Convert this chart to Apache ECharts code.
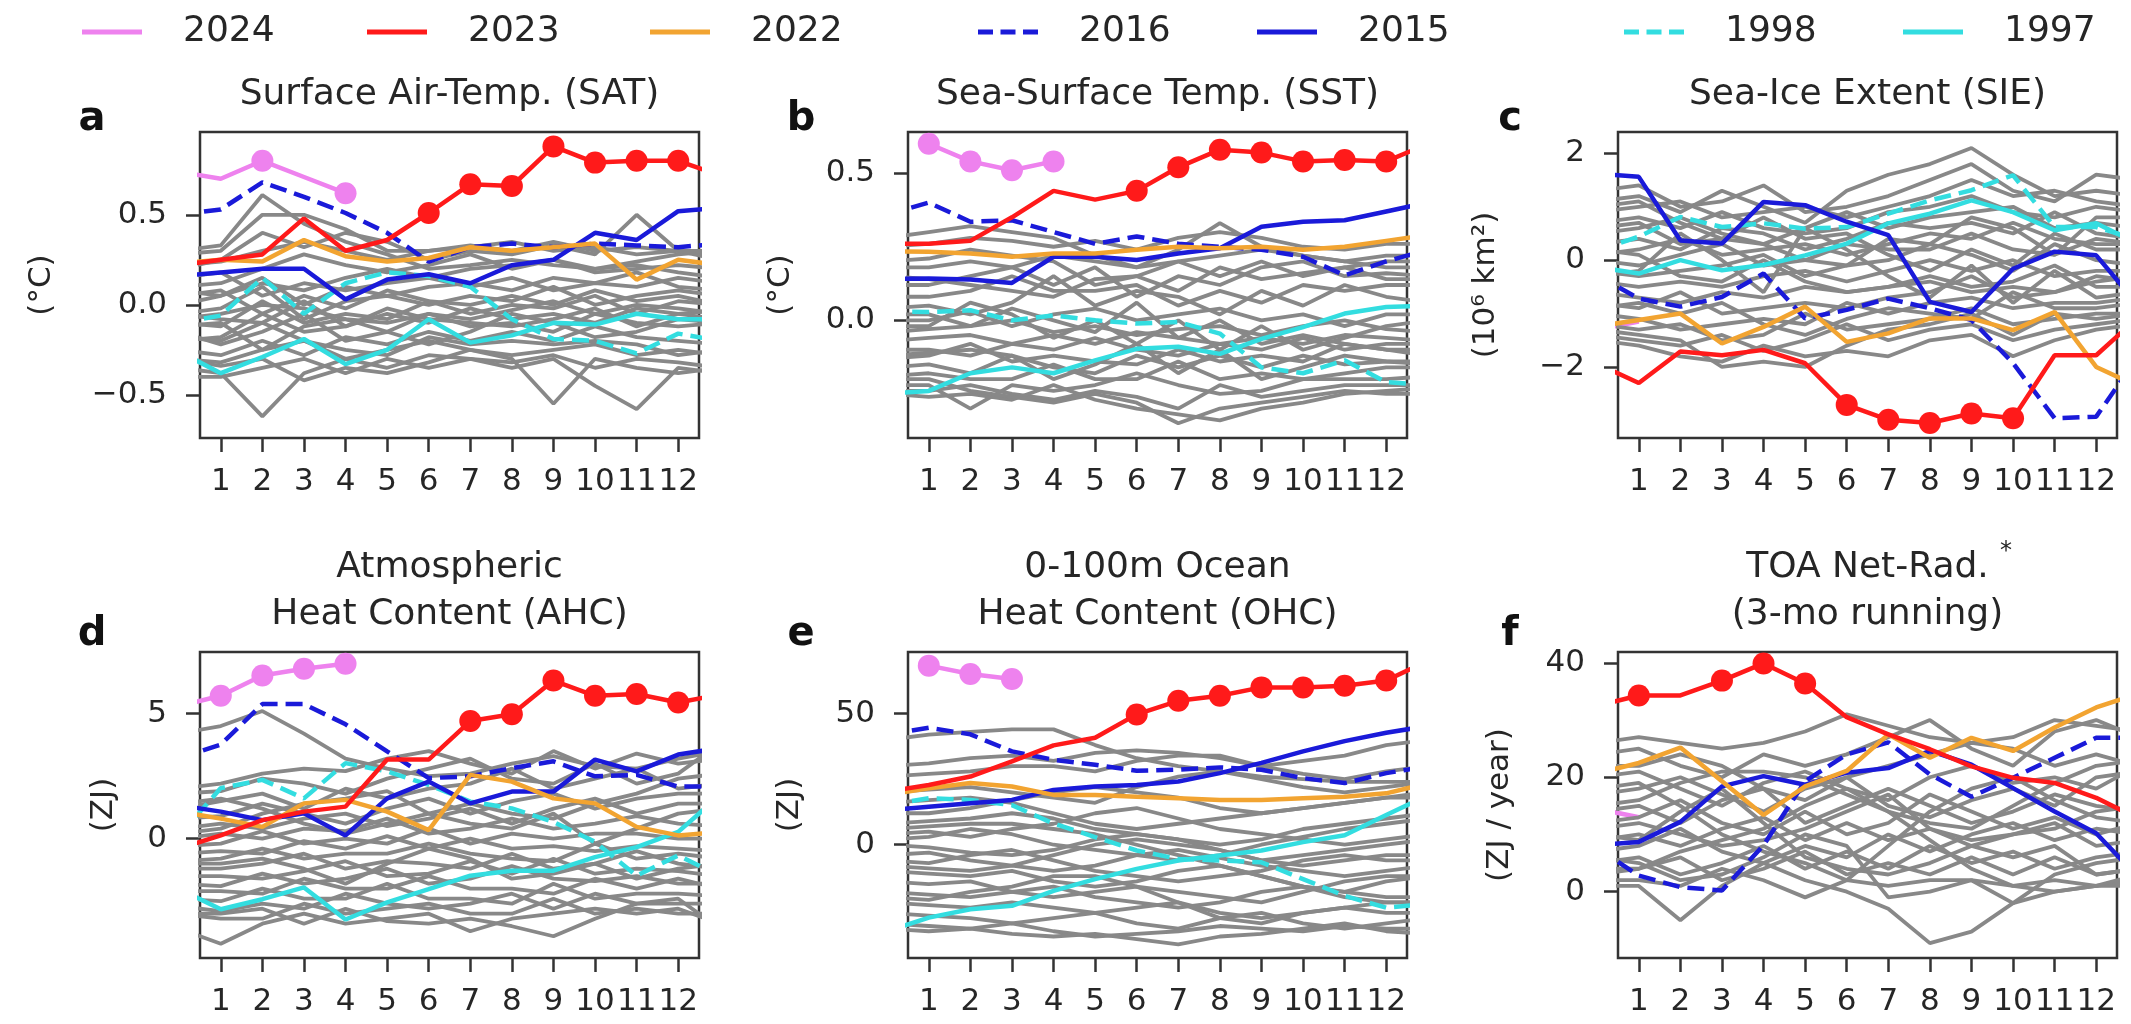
<!DOCTYPE html>
<html>
<head>
<meta charset="utf-8">
<script src="https://cdn.jsdelivr.net/npm/echarts@6.0.0/dist/echarts.min.js"></script>
<style>
  html, body { margin: 0; padding: 0; background: #fff; }
  #chart { width: 2131px; height: 1024px; }
</style>
</head>
<body>
<div id="chart"></div>
<script>
// months 0 (Dec of previous year) .. 13 (Jan of next year); axis shows 1..12
const MONTHS = [0, 1, 2, 3, 4, 5, 6, 7, 8, 9, 10, 11, 12, 13]
const TICK_MONTHS = [1, 2, 3, 4, 5, 6, 7, 8, 9, 10, 11, 12]
const YEARS = ['2024', '2023', '2022', '2016', '2015', '1998', '1997']

// y tick values per panel
const TICKS_A = [-0.5, 0, 0.5]
const TICKS_B = [0, 0.5]
const TICKS_C = [-2, 0, 2]
const TICKS_D = [0, 5]
const TICKS_E = [0, 50]
const TICKS_F = [0, 20, 40]

// ---- a: SAT (°C)
const a2024 = [0.74, 0.70, 0.80, 0.71, 0.62, null, null, null, null, null, null, null, null, null]
const a2023 = [0.22, 0.25, 0.28, 0.48, 0.30, 0.36, 0.51, 0.67, 0.66, 0.88, 0.79, 0.80, 0.80, 0.72]
const a2022 = [0.23, 0.25, 0.24, 0.36, 0.27, 0.24, 0.26, 0.32, 0.30, 0.32, 0.34, 0.14, 0.25, 0.22]
const a2016 = [0.50, 0.53, 0.68, 0.60, 0.51, 0.40, 0.24, 0.32, 0.34, 0.32, 0.34, 0.33, 0.32, 0.34]
const a2015 = [0.16, 0.18, 0.20, 0.20, 0.03, 0.14, 0.17, 0.12, 0.22, 0.25, 0.40, 0.36, 0.52, 0.54]
const a1998 = [-0.10, -0.06, 0.15, -0.05, 0.12, 0.18, 0.16, 0.10, -0.08, -0.19, -0.20, -0.27, -0.16, -0.20]
const a1997 = [-0.26, -0.38, -0.29, -0.19, -0.33, -0.25, -0.08, -0.21, -0.17, -0.10, -0.11, -0.05, -0.08, -0.08]
const aGray = [
  [0.30, 0.33, 0.61, 0.45, 0.35, 0.28, 0.20, 0.22, 0.25, 0.22, 0.20, 0.24, 0.28, 0.30],
  [0.28, 0.30, 0.50, 0.50, 0.42, 0.30, 0.30, 0.33, 0.30, 0.35, 0.30, 0.32, 0.30, 0.28],
  [0.20, 0.25, 0.40, 0.32, 0.40, 0.35, 0.25, 0.30, 0.28, 0.33, 0.28, 0.50, 0.30, 0.25],
  [0.10, 0.12, 0.20, 0.28, 0.22, 0.18, 0.22, 0.28, 0.20, 0.25, 0.20, 0.22, 0.18, 0.15],
  [0.00, 0.05, 0.15, 0.00, 0.10, 0.05, 0.10, 0.12, 0.08, 0.15, 0.12, 0.18, 0.10, 0.08],
  [-0.05, -0.02, 0.10, -0.08, 0.02, 0.05, 0.00, 0.05, 0.02, 0.10, 0.00, 0.05, 0.08, 0.05],
  [0.05, 0.08, -0.05, 0.05, -0.02, 0.08, 0.02, 0.00, 0.05, 0.00, 0.08, 0.02, 0.05, 0.00],
  [-0.10, -0.12, 0.02, -0.10, -0.05, -0.08, 0.02, -0.05, 0.00, -0.02, 0.05, -0.05, 0.02, 0.00],
  [-0.20, -0.18, -0.05, -0.15, -0.12, -0.05, -0.10, -0.02, -0.08, -0.05, -0.10, -0.02, -0.05, -0.08],
  [-0.15, -0.22, -0.15, -0.05, -0.20, -0.15, -0.05, -0.12, -0.10, -0.15, -0.05, -0.10, -0.12, -0.10],
  [-0.25, -0.28, -0.20, -0.28, -0.18, -0.22, -0.15, -0.20, -0.15, -0.20, -0.12, -0.18, -0.20, -0.22],
  [-0.30, -0.32, -0.25, -0.20, -0.30, -0.25, -0.20, -0.25, -0.28, -0.25, -0.22, -0.28, -0.25, -0.28],
  [-0.35, -0.38, -0.62, -0.38, -0.30, -0.35, -0.28, -0.30, -0.32, -0.28, -0.35, -0.30, -0.32, -0.35],
  [-0.30, -0.34, -0.30, -0.42, -0.35, -0.38, -0.32, -0.25, -0.30, -0.55, -0.30, -0.35, -0.38, -0.35],
  [-0.40, -0.40, -0.35, -0.30, -0.38, -0.30, -0.35, -0.30, -0.35, -0.30, -0.45, -0.58, -0.35, -0.38],
  [-0.12, -0.10, -0.25, -0.12, -0.08, -0.15, -0.22, -0.15, -0.05, -0.10, -0.18, -0.15, -0.08, -0.10],
  [0.15, 0.18, 0.05, 0.12, 0.08, 0.12, 0.15, 0.10, 0.15, 0.08, 0.12, 0.10, 0.15, 0.12],
  [-0.05, -0.08, -0.10, 0.02, -0.12, -0.02, -0.08, -0.10, -0.12, -0.08, -0.02, -0.12, -0.05, -0.03],
  [0.08, 0.05, 0.12, 0.08, 0.15, 0.20, 0.15, 0.20, 0.22, 0.25, 0.18, 0.20, 0.22, 0.20],
  [-0.18, -0.20, -0.10, -0.20, -0.25, -0.28, -0.18, -0.22, -0.20, -0.22, -0.20, -0.22, -0.28, -0.25],
  [0.22, 0.24, 0.30, 0.35, 0.30, 0.25, 0.30, 0.32, 0.35, 0.30, 0.32, 0.28, 0.30, 0.30],
  [-0.08, -0.05, 0.00, -0.02, -0.08, -0.10, -0.05, -0.08, -0.03, 0.02, -0.05, 0.00, -0.02, -0.05]
]

// ---- b: SST (°C)
const b2024 = [null, 0.60, 0.54, 0.51, 0.54, null, null, null, null, null, null, null, null, null]
const b2023 = [0.26, 0.26, 0.27, 0.35, 0.44, 0.41, 0.44, 0.52, 0.58, 0.57, 0.54, 0.545, 0.54, 0.60]
const b2022 = [0.235, 0.233, 0.227, 0.216, 0.227, 0.227, 0.24, 0.25, 0.245, 0.25, 0.24, 0.25, 0.27, 0.29]
const b2016 = [0.36, 0.40, 0.335, 0.34, 0.30, 0.26, 0.285, 0.26, 0.25, 0.24, 0.216, 0.153, 0.20, 0.24]
const b2015 = [0.14, 0.142, 0.139, 0.127, 0.216, 0.216, 0.205, 0.227, 0.245, 0.318, 0.335, 0.34, 0.37, 0.40]
const b1998 = [0.03, 0.028, 0.034, 0.0, 0.017, 0.0, -0.011, -0.006, -0.045, -0.16, -0.18, -0.136, -0.21, -0.22]
const b1997 = [-0.25, -0.24, -0.18, -0.16, -0.18, -0.136, -0.097, -0.09, -0.114, -0.063, -0.023, 0.023, 0.045, 0.05]
const bGray = [
  [0.28, 0.30, 0.32, 0.30, 0.28, 0.22, 0.18, 0.24, 0.33, 0.25, 0.22, 0.20, 0.22, 0.22],
  [0.25, 0.26, 0.28, 0.27, 0.25, 0.27, 0.24, 0.28, 0.30, 0.28, 0.25, 0.24, 0.26, 0.26],
  [0.18, 0.18, 0.20, 0.18, 0.22, 0.20, 0.18, 0.20, 0.22, 0.24, 0.22, 0.20, 0.18, 0.18],
  [0.12, 0.12, 0.15, 0.18, 0.12, 0.18, 0.08, 0.15, 0.12, 0.18, 0.20, 0.15, 0.16, 0.15],
  [0.08, 0.08, 0.10, 0.15, 0.10, 0.10, 0.12, 0.05, 0.10, 0.06, 0.12, 0.10, 0.12, 0.12],
  [0.04, 0.05, 0.02, 0.06, 0.15, 0.05, 0.10, 0.08, 0.02, 0.10, 0.05, 0.12, 0.08, 0.06],
  [0.00, 0.00, 0.03, -0.02, 0.02, 0.04, 0.00, 0.02, 0.04, 0.00, 0.02, -0.02, 0.02, 0.02],
  [-0.04, -0.03, -0.02, 0.00, -0.04, -0.02, -0.05, -0.03, -0.02, -0.05, -0.02, 0.00, -0.03, -0.04],
  [-0.07, -0.06, -0.05, -0.08, -0.05, -0.08, -0.04, -0.06, -0.08, -0.06, -0.08, -0.05, -0.06, -0.07],
  [-0.10, -0.10, -0.12, -0.08, -0.10, -0.06, -0.10, -0.12, -0.08, -0.10, -0.06, -0.10, -0.08, -0.08],
  [-0.13, -0.12, -0.08, -0.14, -0.12, -0.14, -0.15, -0.10, -0.14, -0.12, -0.14, -0.08, -0.10, -0.12],
  [-0.16, -0.15, -0.18, -0.12, -0.16, -0.18, -0.12, -0.16, -0.12, -0.16, -0.12, -0.15, -0.14, -0.14],
  [-0.19, -0.18, -0.20, -0.20, -0.15, -0.20, -0.20, -0.14, -0.20, -0.18, -0.20, -0.18, -0.16, -0.16],
  [-0.22, -0.22, -0.30, -0.22, -0.24, -0.22, -0.18, -0.22, -0.25, -0.24, -0.20, -0.20, -0.20, -0.19],
  [-0.24, -0.24, -0.22, -0.25, -0.27, -0.24, -0.26, -0.30, -0.22, -0.26, -0.24, -0.22, -0.22, -0.22],
  [-0.25, -0.26, -0.25, -0.27, -0.22, -0.27, -0.30, -0.32, -0.34, -0.30, -0.28, -0.25, -0.24, -0.23],
  [-0.20, -0.20, -0.24, -0.26, -0.28, -0.25, -0.28, -0.35, -0.30, -0.28, -0.26, -0.24, -0.25, -0.25],
  [0.02, 0.02, -0.02, 0.04, 0.00, -0.04, 0.06, -0.06, 0.00, -0.08, -0.05, -0.08, -0.10, -0.10],
  [-0.02, -0.02, 0.06, 0.02, -0.06, 0.00, -0.08, 0.00, -0.10, -0.02, -0.10, -0.06, -0.02, 0.00],
  [0.20, 0.21, 0.24, 0.22, 0.20, 0.12, 0.15, 0.10, 0.18, 0.14, 0.16, 0.18, 0.20, 0.20],
  [-0.12, -0.11, -0.10, -0.12, -0.20, -0.15, -0.08, -0.18, -0.10, -0.20, -0.16, -0.12, -0.14, -0.15],
  [0.15, 0.14, 0.12, 0.10, 0.08, 0.14, 0.15, 0.20, 0.15, 0.20, 0.15, 0.18, 0.14, 0.14]
]

// ---- c: SIE (10^6 km2)
const c2024 = [-1.30, -1.15, null, null, null, null, null, null, null, null, null, null, null, null]
const c2023 = [-1.94, -2.30, -1.71, -1.78, -1.68, -1.93, -2.71, -2.99, -3.05, -2.87, -2.96, -1.78, -1.78, -1.08]
const c2022 = [-1.24, -1.12, -1.00, -1.56, -1.25, -0.87, -1.53, -1.37, -1.09, -1.09, -1.31, -0.97, -2.00, -2.36]
const c2016 = [-0.28, -0.72, -0.87, -0.69, -0.25, -1.09, -0.93, -0.72, -0.90, -1.12, -1.93, -2.96, -2.93, -1.81]
const c2015 = [1.62, 1.56, 0.37, 0.31, 1.09, 1.03, 0.72, 0.47, -0.78, -0.97, -0.16, 0.16, 0.09, -0.83]
const c1998 = [0.18, 0.44, 0.81, 0.62, 0.69, 0.59, 0.62, 0.87, 1.12, 1.31, 1.59, 0.62, 0.62, 0.38]
const c1997 = [-0.13, -0.25, 0.00, -0.19, -0.09, 0.09, 0.31, 0.69, 0.87, 1.12, 0.90, 0.56, 0.69, 0.31]
const cGray = [
  [1.3, 1.4, 1.0, 1.1, 1.4, 0.9, 1.0, 1.2, 1.5, 1.8, 1.3, 1.1, 1.6, 1.5],
  [1.1, 1.2, 0.9, 1.3, 1.0, 0.7, 1.3, 1.6, 1.8, 2.1, 1.6, 1.2, 1.3, 1.2],
  [0.9, 1.0, 1.1, 0.8, 0.9, 1.0, 0.8, 1.0, 1.2, 1.5, 1.2, 1.3, 1.1, 1.0],
  [0.7, 0.8, 0.6, 0.9, 0.6, 0.5, 0.6, 0.9, 1.0, 1.2, 0.9, 0.8, 1.0, 0.9],
  [0.5, 0.6, 0.8, 0.5, 0.3, 0.6, 0.9, 0.6, 0.8, 0.9, 1.0, 0.6, 0.7, 0.6],
  [0.3, 0.4, 0.2, 0.6, 0.5, 0.2, 0.4, 0.7, 0.6, 0.7, 0.5, 0.9, 0.5, 0.4],
  [0.1, 0.2, 0.4, 0.1, 0.2, 0.3, 0.1, 0.3, 0.5, 0.4, 0.7, 0.4, 0.3, 0.3],
  [0.0, -0.1, 0.1, 0.3, -0.1, 0.0, 0.3, 0.2, 0.2, 0.5, 0.2, 0.1, 0.4, 0.3],
  [-0.2, -0.3, -0.2, -0.1, 0.1, -0.3, -0.1, 0.0, 0.3, 0.1, -0.2, 0.3, 0.0, -0.1],
  [-0.4, -0.5, -0.4, -0.5, -0.3, -0.2, -0.4, -0.2, 0.0, -0.2, 0.0, -0.3, -0.2, -0.2],
  [-0.6, -0.7, -0.8, -0.6, -0.7, -0.5, -0.6, -0.5, -0.3, -0.5, -0.4, -0.1, -0.5, -0.5],
  [-0.8, -0.9, -0.6, -1.0, -0.9, -0.8, -0.9, -0.7, -0.6, -0.3, -0.7, -0.6, -0.3, -0.4],
  [-1.0, -1.1, -1.3, -1.2, -1.1, -1.2, -0.8, -1.0, -0.8, -0.7, -0.9, -0.8, -0.8, -0.7],
  [-1.2, -1.3, -1.2, -1.5, -1.4, -1.0, -1.3, -1.2, -1.1, -0.9, -1.2, -1.1, -1.0, -1.0],
  [-1.4, -1.5, -1.6, -1.4, -1.7, -1.5, -1.2, -1.5, -1.3, -1.2, -1.5, -1.3, -1.2, -1.1],
  [-1.5, -1.6, -1.8, -1.9, -1.6, -1.8, -1.7, -1.8, -1.5, -1.4, -1.8, -1.5, -1.3, -1.2],
  [-1.3, -1.4, -1.5, -2.0, -1.9, -2.0, -1.6, -1.3, -1.2, -1.0, -1.4, -1.0, -1.1, -1.0],
  [0.6, 0.7, 0.3, 0.4, 0.8, 0.4, 0.5, 0.1, -0.2, 0.2, -0.1, 0.5, 0.2, 0.2],
  [0.2, 0.1, -0.3, -0.4, 0.0, -0.4, -0.6, -0.5, -0.4, -0.6, -0.5, -0.6, -0.4, -0.3],
  [-0.3, -0.2, 0.5, 0.0, -0.6, 0.6, 0.2, -0.3, -0.7, -0.1, -0.8, -0.2, -0.7, -0.6],
  [1.0, 1.1, 0.7, 0.4, 0.3, 0.0, -0.1, 0.4, 0.3, 0.8, 0.6, 0.1, 0.8, 0.8],
  [-0.9, -0.8, -1.0, -0.8, -1.2, -1.4, -1.1, -0.9, -1.0, -1.1, -0.6, -0.9, -0.9, -0.8]
]

// ---- d: AHC (ZJ)
const d2024 = [5.30, 5.71, 6.52, 6.79, 6.99, null, null, null, null, null, null, null, null, null]
const d2023 = [-0.39, 0.13, 0.74, 1.08, 1.28, 3.16, 3.16, 4.70, 4.97, 6.32, 5.71, 5.78, 5.44, 5.76]
const d2022 = [1.08, 0.80, 0.47, 1.41, 1.55, 1.08, 0.34, 2.55, 2.28, 1.61, 1.41, 0.47, 0.13, 0.27]
const d2016 = [3.22, 3.76, 5.38, 5.38, 4.57, 3.49, 2.42, 2.49, 2.82, 3.09, 2.49, 2.55, 2.08, 2.08]
const d2015 = [1.34, 1.08, 0.74, 1.01, 0.13, 1.61, 2.28, 1.41, 1.88, 1.88, 3.16, 2.69, 3.36, 3.62]
const d1998 = [0.14, 2.02, 2.35, 1.61, 3.02, 2.69, 2.15, 1.48, 1.21, 0.67, -0.13, -1.48, -0.67, -1.49]
const d1997 = [-2.02, -2.82, -2.42, -1.95, -3.23, -2.55, -2.02, -1.48, -1.28, -1.28, -0.74, -0.34, 0.27, 1.73]
const dGray = [
  [4.2, 4.5, 5.1, 4.2, 3.2, 2.8, 2.5, 2.6, 3.0, 3.3, 2.9, 2.8, 3.2, 3.5],
  [2.0, 2.2, 2.6, 2.8, 2.7, 3.2, 3.5, 3.0, 2.6, 3.5, 2.8, 3.4, 3.0, 3.2],
  [1.8, 1.9, 2.4, 2.2, 1.8, 2.4, 2.8, 3.2, 2.4, 2.2, 3.0, 2.2, 2.6, 3.8],
  [1.2, 1.5, 1.8, 1.2, 2.0, 1.6, 2.0, 2.2, 2.8, 2.0, 2.4, 2.8, 2.0, 2.2],
  [0.8, 0.9, 1.4, 1.0, 0.6, 1.2, 1.6, 1.0, 1.5, 1.8, 1.2, 1.6, 1.8, 1.8],
  [0.4, 0.6, 0.4, 0.8, 1.0, 0.5, 0.8, 1.2, 0.6, 1.2, 1.6, 1.0, 1.4, 1.4],
  [0.0, 0.2, 0.0, 0.4, 0.3, 0.8, 0.2, 0.4, 0.8, 0.4, 0.6, 0.9, 0.6, 0.5],
  [-0.3, -0.2, 0.3, -0.2, 0.0, -0.2, 0.4, -0.2, 0.2, 0.0, 0.2, 0.2, 0.0, 0.0],
  [-0.6, -0.5, -0.6, -0.1, -0.4, 0.1, -0.4, 0.0, -0.4, -0.3, -0.5, -0.3, -0.4, -0.5],
  [-0.9, -0.8, -0.4, -0.8, -0.6, -0.6, -0.2, -0.6, -0.8, -0.9, -0.2, -0.8, -0.6, -0.8],
  [-1.2, -1.2, -1.0, -0.6, -1.2, -0.9, -1.0, -1.2, -0.6, -1.2, -1.0, -0.5, -1.0, -1.2],
  [-1.5, -1.5, -1.6, -1.3, -0.9, -1.5, -1.4, -0.9, -1.4, -0.8, -1.4, -1.2, -1.3, -1.5],
  [-1.8, -1.9, -1.4, -1.8, -1.6, -1.2, -1.8, -1.6, -1.1, -1.6, -1.7, -1.5, -1.8, -1.8],
  [-2.1, -2.1, -2.2, -1.6, -2.0, -2.0, -1.5, -2.0, -2.0, -2.2, -1.6, -2.0, -1.6, -2.0],
  [-2.4, -2.5, -2.0, -2.4, -2.4, -1.8, -2.4, -2.4, -2.6, -1.8, -2.4, -2.2, -2.2, -2.3],
  [-2.7, -2.9, -2.6, -2.8, -2.2, -2.6, -2.8, -2.6, -2.2, -2.8, -2.2, -2.6, -2.6, -2.6],
  [-3.0, -3.2, -3.2, -2.6, -3.0, -2.8, -2.6, -3.0, -3.0, -2.4, -3.0, -2.8, -3.0, -3.0],
  [-3.6, -4.2, -3.4, -3.0, -3.4, -3.2, -3.0, -3.7, -3.2, -3.0, -2.8, -3.0, -2.8, -3.4],
  [-3.0, -3.0, -2.8, -3.4, -2.8, -3.3, -3.4, -3.2, -3.5, -3.9, -3.2, -2.6, -2.4, -3.6],
  [0.2, 0.4, 1.0, 1.4, 1.6, 1.9, 1.0, 0.6, 0.4, 1.0, -0.2, 0.4, 1.0, 1.2],
  [-1.0, -1.0, -0.8, -1.2, -1.8, -1.0, -0.4, -0.8, -1.6, -1.4, -1.0, -1.6, -1.2, -1.0],
  [1.4, 1.6, 1.2, 0.6, 0.2, 0.6, 1.0, 1.4, 1.0, 0.8, 1.4, 1.8, 2.4, 2.6]
]

// ---- e: 0-100m OHC (ZJ)
const e2024 = [null, 68.3, 65.1, 63.2, null, null, null, null, null, null, null, null, null, null]
const e2023 = [20.2, 22.8, 26.0, 31.8, 37.9, 40.8, 49.7, 54.9, 56.8, 60.0, 60.0, 60.6, 62.6, 70.2]
const e2022 = [19.1, 21.5, 23.5, 22.2, 19.0, 19.0, 18.3, 17.7, 17.1, 17.1, 17.7, 18.3, 19.6, 23.4]
const e2016 = [42.0, 44.6, 42.1, 35.6, 32.4, 30.5, 28.2, 28.6, 29.5, 28.6, 25.4, 23.5, 27.3, 29.9]
const e2015 = [13.1, 14.5, 15.8, 17.1, 20.9, 22.2, 22.8, 24.1, 27.3, 31.2, 35.6, 39.5, 42.7, 45.3]
const e1998 = [15.1, 17.7, 17.1, 15.1, 8.1, 2.9, -2.2, -5.4, -6.0, -6.7, -13.1, -19.5, -24.0, -22.6]
const e1997 = [-33.0, -27.8, -24.6, -23.3, -17.6, -13.1, -9.2, -6.0, -4.1, -2.2, 1.0, 3.6, 11.3, 18.9]
const eGray = [
  [40, 42, 43, 44, 44, 38, 33, 30, 28, 26, 25, 24, 24, 24],
  [30, 31, 33, 34, 32, 35, 36, 35, 33, 30, 32, 34, 38, 40],
  [26, 27, 28, 30, 30, 28, 32, 34, 34, 30, 27, 25, 28, 30],
  [20, 21, 22, 20, 18, 16, 22, 26, 28, 25, 22, 20, 22, 24],
  [12, 12, 14, 17, 20, 22, 20, 18, 14, 12, 14, 16, 18, 20],
  [8, 9, 10, 12, 10, 6, 4, 2, 0, 2, 6, 8, 10, 12],
  [4, 5, 3, 6, 8, 12, 14, 10, 6, 4, 2, 0, 2, 4],
  [2, 3, 6, 4, 0, -2, -4, -6, -4, 0, 3, 6, 8, 10],
  [0, -1, -3, -4, -2, 2, 4, 2, -2, -6, -4, -2, 0, 2],
  [-4, -3, -6, -8, -10, -8, -4, -2, -5, -8, -10, -12, -10, -8],
  [-6, -7, -4, -2, -6, -10, -12, -14, -12, -10, -6, -4, -6, -6],
  [-10, -11, -12, -10, -14, -16, -14, -10, -8, -12, -16, -18, -14, -12],
  [-14, -15, -14, -18, -20, -18, -16, -18, -20, -22, -18, -14, -12, -12],
  [-18, -19, -20, -18, -16, -20, -22, -24, -22, -18, -16, -18, -20, -20],
  [-22, -23, -24, -22, -24, -26, -24, -22, -26, -28, -26, -24, -22, -22],
  [-26, -27, -28, -30, -28, -26, -30, -32, -28, -26, -30, -32, -30, -28],
  [-30, -31, -32, -30, -33, -35, -34, -33, -31, -32, -33, -31, -32, -32],
  [-32, -33, -32, -34, -35, -34, -36, -38, -35, -34, -32, -30, -33, -34],
  [-20, -21, -18, -16, -12, -12, -16, -22, -28, -30, -26, -24, -26, -26],
  [6, 7, 8, 8, 6, 4, 0, -4, -8, -12, -16, -20, -22, -22],
  [-8, -9, -10, -8, -4, 0, 2, 0, -2, -6, -8, -6, -4, -4],
  [16, 17, 18, 16, 12, 8, 6, 8, 10, 12, 14, 16, 18, 18]
]

// ---- f: TOA net radiation, 3-mo running (ZJ / year)
const f2024 = [14.5, 13.0, null, null, null, null, null, null, null, null, null, null, null, null]
const f2023 = [32.5, 34.3, 34.3, 36.9, 39.9, 36.4, 30.5, 27.5, 24.9, 21.9, 19.9, 19.0, 16.4, 12.8]
const f2022 = [20.7, 22.5, 25.2, 19.3, 13.4, 18.4, 21.1, 27.5, 23.4, 26.9, 24.6, 28.7, 32.2, 34.6]
const f2016 = [7.6, 2.8, 0.8, 0.2, 8.1, 19.3, 24.0, 26.1, 20.5, 16.6, 19.9, 23.4, 26.9, 26.9]
const f2015 = [8.1, 8.7, 12.2, 18.4, 20.2, 18.7, 20.8, 21.6, 24.6, 22.2, 18.1, 14.0, 10.2, 2.6]
const fGray = [
  [26, 27, 26, 25, 26, 28, 31, 29, 27, 26, 27, 30, 29, 28],
  [24, 25, 22, 20, 24, 22, 24, 27, 30, 25, 22, 28, 30, 27],
  [22, 22, 24, 22, 18, 16, 20, 22, 24, 26, 25, 22, 24, 22],
  [20, 21, 18, 15, 19, 21, 18, 16, 20, 22, 19, 20, 18, 22],
  [17, 18, 20, 17, 14, 18, 20, 15, 13, 16, 18, 15, 20, 21],
  [14, 15, 12, 16, 18, 12, 15, 18, 15, 12, 14, 17, 15, 14],
  [12, 13, 16, 12, 10, 14, 10, 12, 17, 14, 11, 13, 10, 12],
  [9, 10, 8, 11, 13, 9, 12, 9, 11, 8, 10, 12, 8, 9],
  [7, 8, 11, 7, 5, 8, 6, 10, 7, 10, 12, 9, 11, 10],
  [5, 6, 3, 5, 8, 4, 7, 4, 8, 5, 7, 4, 6, 7],
  [3, 4, 6, 2, 4, 7, 3, 5, 3, 6, 3, 6, 3, 4],
  [2, 2, 1, 4, 2, -1, 2, 1, 2, 2, 1, 2, 1, 2],
  [1, 1, -5, 1, 5, 2, 0, -3, -9, -7, -2, 0, 1, 1],
  [6, 5, 2, 3, 6, 10, 8, -1, 0, 2, -2, 3, 5, 6],
  [10, 9, 14, 18, 12, 6, 4, 3, 5, 8, 6, 8, 3, 4],
  [18, 19, 15, 10, 7, 5, 2, 8, 14, 18, 20, 16, 13, 12],
  [15, 16, 19, 21, 21, 20, 17, 14, 12, 11, 15, 19, 22, 23],
  [11, 12, 10, 8, 9, 11, 14, 17, 11, 9, 10, 11, 14, 15],
  [4, 4, 7, 9, 11, 15, 18, 14, 9, 4, 1, 0, 1, 3]
]

// months that get a record marker
const REC_A = { '2024': [2, 4], '2023': [6, 7, 8, 9, 10, 11, 12] }
const REC_B = { '2024': [1, 2, 3, 4], '2023': [6, 7, 8, 9, 10, 11, 12] }
const REC_C = { '2023': [6, 7, 8, 9, 10] }
const REC_D = { '2024': [1, 2, 3, 4], '2023': [7, 8, 9, 10, 11, 12] }
const REC_E = { '2024': [1, 2, 3], '2023': [6, 7, 8, 9, 10, 11, 12] }
const REC_F = { '2023': [1, 3, 4, 5] }

const COLORS = {
  '2024': '#ee82ee', '2023': '#ff1a1a', '2022': '#f2a431',
  '2016': '#1a1ad9', '2015': '#1a1ad9', '1998': '#33dde0', '1997': '#33dde0',
}
const DASHED = { '2016': true, '1998': true }
const GRAY = '#888888'
const FONT = '"DejaVu Sans", sans-serif'

const panels = [
  { years: { '2024': a2024, '2023': a2023, '2022': a2022, '2016': a2016, '2015': a2015, '1998': a1998, '1997': a1997 },
    gray: aGray, rec: REC_A, min: -0.74, max: 0.96, ticks: TICKS_A, dec: 1, unit: '(°C)', gap: 143,
    title: ['Surface Air-Temp. (SAT)'], letter: 'a' },
  { years: { '2024': b2024, '2023': b2023, '2022': b2022, '2016': b2016, '2015': b2015, '1998': b1998, '1997': b1997 },
    gray: bGray, rec: REC_B, min: -0.40, max: 0.64, ticks: TICKS_B, dec: 1, unit: '(°C)', gap: 112,
    title: ['Sea-Surface Temp. (SST)'], letter: 'b' },
  { years: { '2024': c2024, '2023': c2023, '2022': c2022, '2016': c2016, '2015': c2015, '1998': c1998, '1997': c1997 },
    gray: cGray, rec: REC_C, min: -3.33, max: 2.40, ticks: TICKS_C, dec: 0, unit: '(10⁶ km²)', gap: 117,
    title: ['Sea-Ice Extent (SIE)'], letter: 'c' },
  { years: { '2024': d2024, '2023': d2023, '2022': d2022, '2016': d2016, '2015': d2015, '1998': d1998, '1997': d1997 },
    gray: dGray, rec: REC_D, min: -4.77, max: 7.46, ticks: TICKS_D, dec: 0, unit: '(ZJ)', gap: 81,
    title: ['Atmospheric', 'Heat Content (AHC)'], letter: 'd' },
  { years: { '2024': e2024, '2023': e2023, '2022': e2022, '2016': e2016, '2015': e2015, '1998': e1998, '1997': e1997 },
    gray: eGray, rec: REC_E, min: -43.2, max: 73.5, ticks: TICKS_E, dec: 0, unit: '(ZJ)', gap: 103,
    title: ['0-100m Ocean', 'Heat Content (OHC)'], letter: 'e' },
  { years: { '2024': f2024, '2023': f2023, '2022': f2022, '2016': f2016, '2015': f2015 },
    gray: fGray, rec: REC_F, min: -11.6, max: 41.9, ticks: TICKS_F, dec: 0, unit: '(ZJ / year)', gap: 103,
    title: ['TOA Net-Rad.', '(3-mo running)'], letter: 'f' },
]

const COL_LEFT = [200, 908, 1618]
const ROW_TOP = [132, 652]
const BOX_W = 499
const BOX_H = 306

const fmt = (v, dec) => v.toFixed(dec).replace('-', '\u2212')

const grids = [], xAxes = [], yAxes = [], series = [], graphics = []

panels.forEach((p, i) => {
  const col = i % 3, row = Math.floor(i / 3)
  const left = COL_LEFT[col], top = ROW_TOP[row]
  grids.push({ left, top, width: BOX_W, height: BOX_H, show: true, borderColor: '#333', borderWidth: 2.5, backgroundColor: 'transparent' })
  xAxes.push({
    type: 'value', gridIndex: i, min: 0.5, max: 12.5,
    axisLine: { show: false, onZero: false }, splitLine: { show: false },
    axisTick: { show: true, length: 14, customValues: TICK_MONTHS, lineStyle: { color: '#333', width: 2.5 } },
    axisLabel: { customValues: TICK_MONTHS, fontSize: 31, fontFamily: FONT, color: '#262626', margin: 28 },
  })
  yAxes.push({
    type: 'value', gridIndex: i, min: p.min, max: p.max,
    axisLine: { show: false, onZero: false }, splitLine: { show: false },
    axisTick: { show: true, length: 14, customValues: p.ticks, lineStyle: { color: '#333', width: 2.5 } },
    axisLabel: { customValues: p.ticks, fontSize: 31, fontFamily: FONT, color: '#262626', margin: 33,
      formatter: v => fmt(v, p.dec) },
    name: p.unit, nameLocation: 'middle', nameRotate: 90, nameGap: p.gap,
    nameTextStyle: { fontSize: 31, fontFamily: FONT, color: '#262626' },
  })

  // background years
  p.gray.forEach((vals, k) => {
    series.push({
      type: 'line', name: 'bg' + i + '_' + k, xAxisIndex: i, yAxisIndex: i,
      data: MONTHS.map((m, j) => [m, vals[j]]),
      symbol: 'none', silent: true, z: 2,
      lineStyle: { color: GRAY, width: 3.8 },
    })
  })

  // highlighted years, drawn oldest first so 2024 ends on top
  YEARS.slice().reverse().forEach(y => {
    const vals = p.years[y]
    if (!vals) return
    const recs = p.rec[y] || []
    const stub = vals.filter(v => v != null).length <= 2
    series.push({
      type: 'line', name: y, xAxisIndex: i, yAxisIndex: i,
      data: MONTHS.map((m, j) => vals[j] == null ? null
        : { value: [m, vals[j]], symbol: recs.includes(m) ? 'circle' : 'none' }).filter(Boolean),
      symbol: 'circle', symbolSize: 22, showAllSymbol: true, silent: true,
      z: stub ? 1 : 3,
      itemStyle: { color: COLORS[y] },
      lineStyle: { color: COLORS[y], width: 4.5, type: DASHED[y] ? [17, 8] : 'solid' },
    })
  })

  // titles and panel letters
  const cx = left + BOX_W / 2
  if (p.title.length === 1) {
    graphics.push({ type: 'text', x: cx, y: 95, style: { text: p.title[0], font: '36px ' + FONT, fill: '#262626', textAlign: 'center', textVerticalAlign: 'middle' } })
  } else {
    graphics.push({ type: 'text', x: cx, y: 568, style: { text: p.title[0], font: '36px ' + FONT, fill: '#262626', textAlign: 'center', textVerticalAlign: 'middle' } })
    graphics.push({ type: 'text', x: cx, y: 615, style: { text: p.title[1], font: '36px ' + FONT, fill: '#262626', textAlign: 'center', textVerticalAlign: 'middle' } })
  }
  graphics.push({ type: 'text', x: 92 + col * 709, y: row === 0 ? 120 : 635,
    style: { text: p.letter, font: 'bold 40px ' + FONT, fill: '#111', textAlign: 'center', textVerticalAlign: 'middle' } })
})
// superscript asterisk on the TOA title
graphics.push({ type: 'text', x: 2000, y: 552, style: { text: '*', font: '24px ' + FONT, fill: '#262626', textAlign: 'left', textVerticalAlign: 'middle' } })

// legend: one component per entry so spacing can follow the figure
const SOLID_ICON = 'path://M0,0h24v2h-24z'
const DASH_ICON = 'path://M0,0h6v2h-6zM9,0h6v2h-6zM18,0h6v2h-6z'
const LEGEND_X = [82, 367, 650, 978, 1257, 1624, 1903]
const legends = YEARS.map((y, k) => ({
  left: LEGEND_X[k], top: 10, padding: 0, selectedMode: false,
  itemWidth: 82, itemHeight: 5,
  data: [{ name: y, icon: DASHED[y] ? DASH_ICON : SOLID_ICON }],
  textStyle: { fontSize: 36, fontFamily: FONT, color: '#262626', lineHeight: 44, padding: [0, 0, 0, 25] },
}))

const chart = echarts.init(document.getElementById('chart'))
chart.setOption({
  animation: false,
  backgroundColor: '#fff',
  legend: legends,
  grid: grids,
  xAxis: xAxes,
  yAxis: yAxes,
  series,
  graphic: graphics,
})
</script>
</body>
</html>
